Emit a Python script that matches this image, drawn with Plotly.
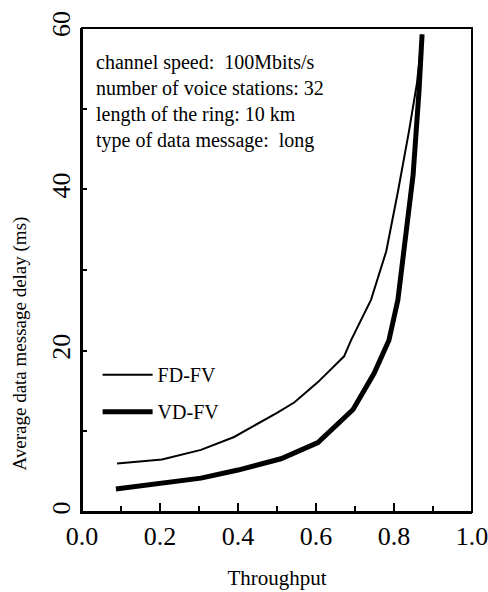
import plotly.graph_objects as go

# Data
fd_x = [0.09, 0.205, 0.305, 0.39, 0.50, 0.545, 0.605, 0.672, 0.69, 0.741, 0.78, 0.81, 0.838, 0.859, 0.872]
fd_y = [6.0, 6.5, 7.7, 9.3, 12.3, 13.6, 16.1, 19.3, 21.3, 26.3, 32.3, 39.7, 47.1, 53.2, 59.2]

vd_x = [0.087, 0.203, 0.305, 0.40, 0.51, 0.605, 0.695, 0.749, 0.787, 0.81, 0.825, 0.849, 0.864, 0.872]
vd_y = [2.85, 3.5, 4.2, 5.2, 6.6, 8.6, 12.7, 17.2, 21.3, 26.3, 32.2, 41.8, 52.1, 59.2]

x_tickvals = [0.0, 0.2, 0.4, 0.6, 0.8, 1.0]
x_ticktext = ["0.0", "0.2", "0.4", "0.6", "0.8", "1.0"]
y_tickvals = [0, 20, 40, 60]
y_ticktext = ["0", "20", "40", "60"]

info_lines = [
    "channel speed:  100Mbits/s",
    "number of voice stations: 32",
    "length of the ring: 10 km",
    "type of data message:  long",
]

x_title = "Throughput"
y_title = "Average data message delay (ms)"

FONT = "Liberation Serif, Times New Roman, serif"

fig = go.Figure()
fig.add_trace(go.Scatter(x=fd_x, y=fd_y, mode="lines", name="FD-FV",
                         legendgroup="a",
                         line=dict(color="black", width=2)))
fig.add_trace(go.Scatter(x=vd_x, y=vd_y, mode="lines", name="VD-FV",
                         legendgroup="b",
                         line=dict(color="black", width=5)))

fig.add_annotation(
    xref="paper", yref="paper", x=0.032, y=0.956, xanchor="left", yanchor="top",
    text="<br>".join(info_lines), align="left", showarrow=False,
    font=dict(family=FONT, size=20, color="black"),
)

# y-axis title placed as rotated text (sits lower than centre in the reference)
fig.add_annotation(
    xref="paper", yref="paper", x=-0.159, y=0.348, xanchor="center", yanchor="middle",
    text=y_title, textangle=-90, showarrow=False,
    font=dict(family=FONT, size=19, color="black"),
)

# plot frame
fig.add_shape(type="rect", xref="paper", yref="paper", x0=0, x1=1, y0=0, y1=1,
              line=dict(color="black", width=2), layer="above")

fig.update_layout(
    width=488, height=592,
    margin=dict(l=82, r=16, t=28, b=80, autoexpand=False),
    paper_bgcolor="white", plot_bgcolor="white",
    font=dict(family=FONT, color="black"),
    showlegend=True,
    legend=dict(x=0.04, y=0.324, xanchor="left", yanchor="top",
                bgcolor="rgba(0,0,0,0)", font=dict(family=FONT, size=20),
                tracegroupgap=8, itemwidth=50),
    xaxis=dict(
        range=[0, 1], tickvals=x_tickvals, ticktext=x_ticktext,
        ticks="inside", ticklen=9, tickwidth=2, tickcolor="black",
        minor=dict(ticks="inside", dtick=0.1, ticklen=6, tickwidth=2, tickcolor="black"),
        showline=True, linecolor="black", linewidth=2,
        showgrid=False, zeroline=False, ticklabeloverflow="allow",
        tickfont=dict(family=FONT, size=26),
        title=dict(text=x_title, font=dict(family=FONT, size=21), standoff=20),
    ),
    yaxis=dict(
        range=[0, 60], tickvals=y_tickvals, ticktext=y_ticktext,
        ticks="inside", ticklen=5, tickwidth=2, tickcolor="black",
        minor=dict(ticks="inside", dtick=10, ticklen=5, tickwidth=2, tickcolor="black"),
        showline=True, linecolor="black", linewidth=2,
        showgrid=False, zeroline=False, tickangle=-90, ticklabeloverflow="allow",
        tickfont=dict(family=FONT, size=26),
    ),
)

fig.write_html("out.html", config={"displayModeBar": False},
               post_script="document.body.style.margin='0';document.body.style.overflow='hidden';")
